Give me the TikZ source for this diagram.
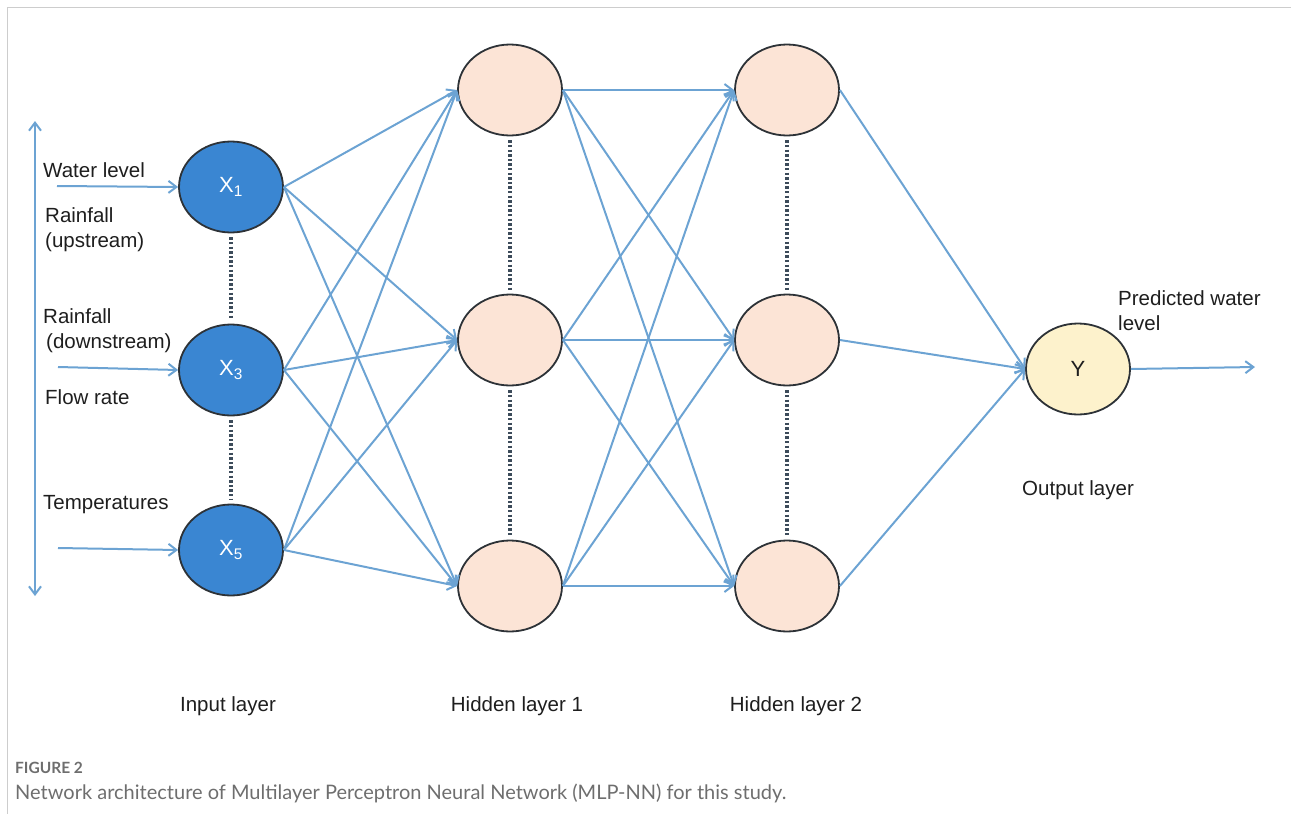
\documentclass[tikz,border=0pt]{standalone}
\usepackage{fontspec}
\setmainfont{Liberation Sans}
\newfontfamily\capfont{Lato}
\usetikzlibrary{shapes.geometric,arrows.meta}
\definecolor{edgeblue}{RGB}{108,163,211}
\definecolor{inblue}{RGB}{58,134,210}
\definecolor{peach}{RGB}{252,228,214}
\definecolor{paleyellow}{RGB}{253,242,204}
\definecolor{outline}{RGB}{45,50,55}
\definecolor{dotgray}{RGB}{60,75,90}
\definecolor{labeltext}{RGB}{30,30,30}
\definecolor{framegray}{RGB}{205,205,205}
\definecolor{capgray}{RGB}{110,110,110}
\tikzset{
  neuron/.style={ellipse, draw=outline, line width=1.8pt, minimum width=104pt, minimum height=91pt, inner sep=0pt},
  innode/.style={neuron, fill=inblue, text=white, font=\fontsize{22}{26}\selectfont},
  hidnode/.style={neuron, fill=peach},
  outnode/.style={neuron, fill=paleyellow, text=labeltext, font=\fontsize{22}{26}\selectfont},
  tipbarb/.tip={Straight Barb[length=8pt,width=12pt,line width=2pt]},
  conn/.style={draw=edgeblue, line width=2pt, -tipbarb},
  dotline/.style={draw=dotgray, line width=3.2pt, dash pattern=on 2.4pt off 2.2pt, shorten <=4pt, shorten >=4pt},
  lbl/.style={anchor=west, inner sep=0pt, text=labeltext, font=\fontsize{20.5}{25}\selectfont, align=left},
  layerlbl/.style={inner sep=0pt, text=labeltext, font=\fontsize{20.5}{25}\selectfont}
}
\begin{document}
\begin{tikzpicture}[x=1pt,y=-1pt]
\useasboundingbox (0,0) rectangle (1291,814);
\draw[framegray, line width=1.2pt] (7.5,814) -- (7.5,7.5) -- (1291,7.5);

% input layer
\node[innode] (x1) at (231,187) {X\textsubscript{1}};
\node[innode] (x3) at (231,370) {X\textsubscript{3}};
\node[innode] (x5) at (231,550) {X\textsubscript{5}};
% hidden layer 1
\node[hidnode] (a1) at (510,90) {};
\node[hidnode] (a2) at (510,340) {};
\node[hidnode] (a3) at (510,586) {};
% hidden layer 2
\node[hidnode] (b1) at (787,90) {};
\node[hidnode] (b2) at (787,340) {};
\node[hidnode] (b3) at (787,586) {};
% output
\node[outnode] (y) at (1078,369) {Y};

% dotted
\draw[dotline] (x1.south) -- (x3.north);
\draw[dotline] (x3.south) -- (x5.north);
\draw[dotline] (a1.south) -- (a2.north);
\draw[dotline] (a2.south) -- (a3.north);
\draw[dotline] (b1.south) -- (b2.north);
\draw[dotline] (b2.south) -- (b3.north);

% input arrows
\coordinate (i1) at (57,186);
\coordinate (i3) at (58,367);
\coordinate (i5) at (58,548);
\draw[conn] (i1) -- (x1.west);
\draw[conn] (i3) -- (x3.west);
\draw[conn] (i5) -- (x5.west);

% vertical double arrow
\coordinate (vt) at (35,121);
\coordinate (vb) at (35,596);
\draw[draw=edgeblue, line width=2pt, tipbarb-tipbarb] (vt) -- (vb);

% connections
\foreach \s in {x1,x3,x5}{
  \foreach \t in {a1,a2,a3}{
    \draw[conn] (\s.east) -- (\t.west);
  }
}
\foreach \s in {a1,a2,a3}{
  \foreach \t in {b1,b2,b3}{
    \draw[conn] (\s.east) -- (\t.west);
  }
}
\foreach \s in {b1,b2,b3}{
  \draw[conn] (\s.east) -- (y.west);
}
\coordinate (yo) at (1255,367);
\draw[conn] (y.east) -- (yo);

% labels
\node[lbl] (l1) at (43,170) {Water level};
\node[lbl] (l2) at (45,230) {Rainfall\\(upstream)};
\node[lbl] (l3) at (43,331) {Rainfall\\\hspace*{3pt}(downstream)};
\node[lbl] (l4) at (45,397) {Flow rate};
\node[lbl] (l5) at (43,505) {Temperatures};
\node[lbl] (l6) at (1118,311) {Predicted water\\level};
\node[lbl] (l7) at (1022,490) {Output layer};

\node[layerlbl] (il) at (228,706) {Input layer};
\node[layerlbl] (h1l) at (517,706) {Hidden layer 1};
\node[layerlbl] (h2l) at (796,706) {Hidden layer 2};

% caption
\node[anchor=west, inner sep=0pt, text=capgray, font=\capfont\bfseries\fontsize{15.5}{19}\selectfont] (fig) at (15,768) {FIGURE 2};
\node[anchor=west, inner sep=0pt, text=capgray, font=\capfont\fontsize{20}{23}\selectfont] (cap) at (15,793) {Network architecture of Multilayer Perceptron Neural Network (MLP-NN) for this study.};
\end{tikzpicture}
\end{document}
